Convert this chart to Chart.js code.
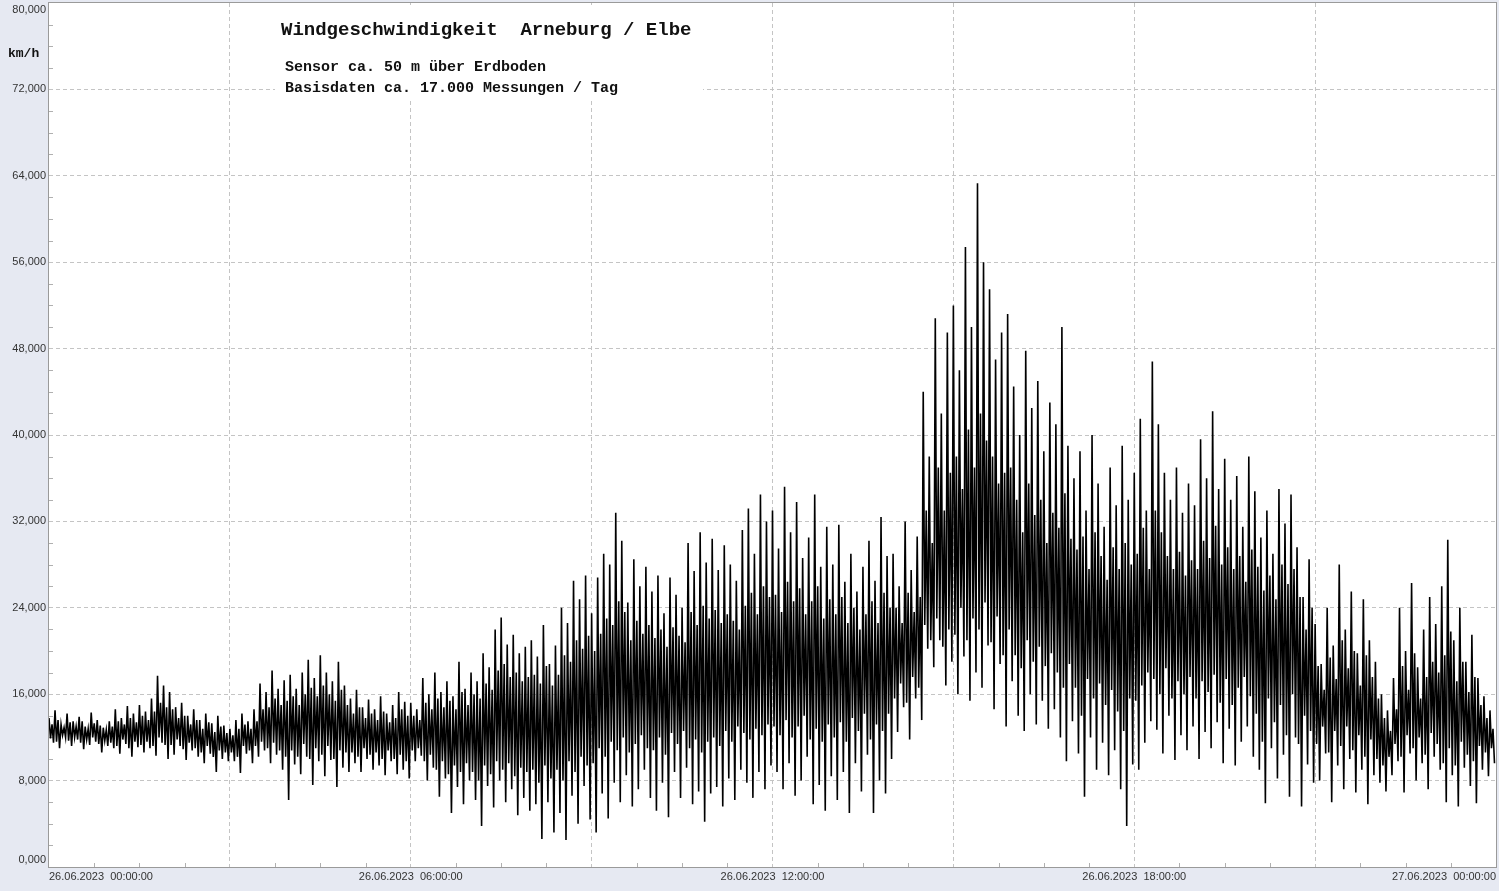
<!DOCTYPE html>
<html>
<head>
<meta charset="utf-8">
<script src="https://cdn.jsdelivr.net/npm/chart.js@4/dist/chart.umd.min.js"></script>
<style>
  html, body { margin: 0; padding: 0; background: #e6e9f2; }
  #wrap { width: 1499px; height: 891px; position: relative; }
</style>
</head>
<body>
<div id="wrap"><canvas id="chart" width="1499" height="891"></canvas></div>
<script>
// Windgeschwindigkeit in km/h, every 0.1 h:
// hi/lo = outer swings (spikes), cu/cl = edges of the dense black band
const hi = [
  13.8,14.5,13.2,14.2,13.5,13.9,13.0,14.3,13.6,12.9,
  13.5,14.6,13.8,14.9,14.2,15.0,14.4,15.6,17.7,16.8,
  16.2,14.8,15.2,14.0,14.6,13.6,14.2,13.3,14.0,13.1,
  12.8,13.6,14.2,13.5,14.6,17.0,16.2,18.2,16.5,17.3,
  17.8,16.5,18.0,19.2,17.5,19.6,18.0,17.2,19.0,16.8,
  15.6,16.4,14.8,15.5,14.6,15.8,14.2,15.0,16.2,15.3,
  15.2,14.6,17.5,16.0,18.0,16.2,17.2,15.8,19.0,16.5,
  18.0,17.2,19.8,18.5,22.0,23.1,20.6,21.5,19.8,20.4,
  21.0,19.5,22.4,18.8,20.5,24.0,22.6,26.5,24.8,27.0,
  23.5,26.8,29.0,28.0,32.8,30.2,24.5,28.5,26.0,27.8,
  25.5,27.0,23.5,26.8,25.2,24.0,30.0,27.4,31.0,28.2,
  30.4,27.5,29.8,28.0,26.5,31.2,33.2,29.0,34.5,32.0,
  33.0,29.5,35.2,31.0,33.8,28.6,30.5,34.5,27.8,31.5,
  28.0,31.7,26.4,29.0,25.5,27.8,30.2,26.5,32.4,28.8,
  29.0,26.0,32.0,27.5,30.6,44.0,38.0,50.8,42.0,49.5,
  52.0,46.0,57.4,50.0,63.3,56.0,53.5,47.0,49.5,51.2,
  44.5,40.0,47.8,42.5,45.0,38.5,43.0,41.0,50.0,39.0,
  36.0,38.5,33.0,40.0,35.5,31.5,37.0,33.5,39.0,34.0,
  36.5,41.5,33.0,46.8,41.0,36.5,34.0,37.0,32.8,35.5,
  33.5,39.6,36.0,42.2,35.0,37.8,34.0,36.2,31.5,38.0,
  34.8,30.5,33.0,29.0,35.0,31.8,34.5,29.6,25.0,28.5,
  22.5,18.8,24.0,20.5,28.0,22.0,25.5,19.8,24.8,21.0,
  19.0,16.0,14.5,17.5,24.0,20.0,26.3,18.5,22.0,25.0,
  22.5,26.0,30.3,21.0,24.0,19.0,21.5,17.5,15.8,14.5
];
const cl = [
  11.9,11.6,12.2,11.7,12.0,11.5,11.8,12.0,11.4,11.7,
  11.5,11.2,11.8,11.0,11.6,11.3,11.6,11.2,12.0,11.3,
  11.3,11.8,10.9,11.5,11.0,10.6,11.2,10.2,10.8,10.6,
  10.6,10.2,11.2,10.8,11.2,11.6,11.0,11.5,10.8,10.2,
  10.8,10.2,11.4,10.0,11.0,10.4,11.2,10.0,10.8,10.6,
  10.6,10.2,11.0,10.4,10.6,10.0,10.8,10.0,10.4,9.8,
  10.8,11.0,9.8,10.4,9.0,9.8,8.6,9.4,8.8,9.6,
  8.8,8.0,9.4,8.6,9.8,9.0,9.6,8.4,9.2,8.8,
  9.0,7.8,9.4,8.2,9.0,8.0,9.8,8.8,10.2,9.4,
  9.6,11.0,10.2,11.6,10.8,12.0,10.6,11.4,12.2,11.0,
  10.8,12.0,10.4,12.4,11.4,12.6,11.0,11.8,10.6,11.6,
  12.0,11.2,12.6,11.6,13.0,12.4,11.8,12.8,12.2,13.2,
  13.0,12.2,13.6,12.0,13.0,14.0,11.8,12.8,11.6,13.2,
  12.0,13.4,11.6,13.8,12.6,14.2,11.8,13.2,12.6,14.2,
  15.6,17.0,15.2,17.6,16.6,22.4,21.0,23.0,20.4,22.0,
  21.5,24.0,21.0,23.0,22.0,24.5,20.8,23.2,19.6,22.0,
  19.6,18.4,21.0,19.0,20.4,18.6,19.8,18.0,16.6,18.8,
  16.6,14.0,17.4,15.6,17.0,15.0,16.4,14.4,12.6,15.6,
  15.4,16.8,18.0,17.4,16.0,18.4,15.6,17.2,16.0,17.6,
  15.6,17.2,16.2,17.8,15.2,17.4,15.0,16.6,17.6,15.8,
  14.2,11.6,15.6,13.4,15.0,12.2,16.0,11.4,14.0,12.6,
  11.4,13.0,10.6,12.6,11.2,13.0,10.8,12.2,10.2,11.8,
  10.0,9.4,10.2,11.4,10.2,12.2,11.0,12.0,10.4,12.4,
  11.4,9.6,11.0,9.4,11.6,10.4,9.8,11.2,10.6,11.0
];
const cu = [
  13.2,13.6,12.9,13.4,13.0,13.5,12.8,13.3,13.1,12.7,
  13.0,13.5,13.2,13.8,13.4,14.0,13.6,14.4,15.2,14.8,
  14.6,13.8,14.0,13.2,13.6,12.8,13.4,12.5,13.0,12.4,
  12.2,12.8,13.2,12.8,13.5,14.6,14.8,15.6,15.0,15.4,
  15.8,15.0,16.0,16.6,15.8,16.8,16.0,15.4,16.4,15.0,
  14.2,14.8,13.8,14.2,13.6,14.4,13.4,13.8,14.6,14.0,
  14.0,13.6,15.2,14.6,15.6,14.8,15.4,14.6,16.2,15.0,
  16.0,15.6,17.0,16.4,18.2,18.8,17.6,18.0,17.2,17.6,
  17.8,17.0,18.6,16.8,17.8,19.6,19.0,21.0,20.2,21.4,
  20.0,21.6,23.0,22.4,24.6,23.6,21.0,22.8,21.6,22.4,
  21.2,22.0,20.4,22.2,21.4,20.8,23.6,22.4,24.2,23.0,
  23.8,22.6,23.4,22.8,22.0,24.2,25.4,23.4,26.0,25.0,
  25.2,23.6,26.4,24.6,25.8,23.4,24.6,26.0,23.0,24.8,
  23.4,25.0,22.6,24.0,22.0,23.4,24.6,22.6,25.4,24.0,
  24.0,22.6,25.4,23.6,25.0,33.0,30.0,37.0,33.0,36.5,
  38.0,35.0,40.5,37.0,42.0,39.5,38.0,35.5,36.5,37.0,
  34.0,31.0,35.5,32.6,34.0,30.0,32.8,31.4,34.6,30.4,
  29.4,30.6,27.6,31.0,28.8,26.6,29.6,27.6,30.0,28.0,
  29.0,31.4,27.6,33.0,31.0,28.8,27.6,29.2,27.0,28.4,
  27.6,30.2,28.6,31.6,28.0,29.6,27.6,28.8,26.4,29.4,
  27.8,25.6,27.0,24.8,28.0,26.2,27.6,25.0,22.0,24.0,
  18.6,16.4,19.4,17.4,21.0,18.4,20.0,16.8,19.6,17.6,
  15.6,13.8,12.6,14.6,18.6,16.4,19.8,15.6,17.6,19.0,
  18.0,19.6,21.8,17.2,19.0,16.2,17.6,15.0,13.8,12.8
];
const lo = [
  11.5,11.0,12.0,11.2,11.8,10.9,11.3,11.6,10.6,11.2,
  11.0,10.5,11.4,10.2,11.1,10.6,11.0,10.3,11.5,10.0,
  10.4,11.2,9.9,10.8,10.2,9.6,10.5,8.8,10.0,9.8,
  9.8,8.7,10.5,9.6,10.2,10.8,9.6,10.4,9.0,6.2,
  9.5,8.6,10.2,7.6,9.8,8.4,9.9,7.4,9.2,8.8,
  9.6,8.8,10.0,9.0,9.4,8.5,9.8,8.6,9.0,8.2,
  9.8,10.3,8.0,9.2,6.5,8.2,5.0,7.4,5.8,8.0,
  6.2,3.8,7.5,5.5,8.0,6.0,7.2,4.8,6.4,5.2,
  5.8,2.6,6.0,3.2,5.0,2.5,6.6,4.0,7.5,4.4,
  3.2,6.8,4.5,7.8,6.0,8.5,5.6,7.2,9.0,6.4,
  5.2,7.8,4.6,8.8,6.4,9.2,5.8,7.0,4.2,6.8,
  7.4,5.6,8.2,6.2,9.0,7.8,6.4,8.8,7.2,9.4,
  8.8,7.2,9.6,6.6,8.0,10.2,5.8,7.6,5.2,8.4,
  6.2,8.8,5.0,9.6,7.0,10.4,5.0,8.0,6.8,10.0,
  12.5,14.8,11.8,15.6,13.6,20.2,18.5,21.0,16.8,19.0,
  16.0,19.5,15.4,18.0,16.6,20.5,14.6,18.8,13.0,17.2,
  14.0,12.6,16.0,13.2,15.4,12.8,14.6,12.0,9.8,13.5,
  10.5,6.5,12.0,9.0,11.5,8.5,10.8,7.2,3.8,9.5,
  9.0,11.5,13.5,12.7,10.5,14.0,9.9,12.2,10.8,13.0,
  10.0,12.5,11.0,13.4,9.6,12.8,9.4,11.6,13.0,10.2,
  9.0,5.9,11.0,8.2,10.4,6.5,12.0,5.6,9.5,7.8,
  8.0,10.5,6.0,9.4,7.2,10.0,6.9,9.0,5.8,8.5,
  7.8,7.0,8.5,9.8,6.9,10.5,8.0,9.6,7.2,10.2,
  9.0,6.0,8.5,5.6,9.2,7.5,5.9,9.0,8.4,9.6
];
const stepHours = 0.1;
const yTicks = [0, 8, 16, 24, 32, 40, 48, 56, 64, 72, 80];
const xLabels = [
  { h: 0, text: '26.06.2023  00:00:00', align: 'left' },
  { h: 6, text: '26.06.2023  06:00:00', align: 'center' },
  { h: 12, text: '26.06.2023  12:00:00', align: 'center' },
  { h: 18, text: '26.06.2023  18:00:00', align: 'center' },
  { h: 24, text: '27.06.2023  00:00:00', align: 'right' }
];
const title = 'Windgeschwindigkeit  Arneburg / Elbe';
const subLines = ['Sensor ca. 50 m über Erdboden', 'Basisdaten ca. 17.000 Messungen / Tag'];
const unit = 'km/h';

// four readings per step: spike top, band bottom, band top, spike bottom
const points = [];
hi.forEach((v, i) => {
  const t = i * stepHours;
  points.push({ x: t, y: v });
  points.push({ x: t + stepHours * 0.25, y: cl[i] });
  points.push({ x: t + stepHours * 0.5, y: cu[i] });
  points.push({ x: t + stepHours * 0.75, y: lo[i] });
});

function fmt(v) {
  return v.toFixed(3).replace('.', ',');
}

const decor = {
  id: 'decor',
  beforeDraw(chart) {
    const { ctx, chartArea: a } = chart;
    ctx.save();
    ctx.fillStyle = '#e6e9f2';
    ctx.fillRect(0, 0, chart.width, chart.height);
    ctx.fillStyle = '#ffffff';
    ctx.fillRect(a.left, a.top, a.right - a.left, a.bottom - a.top);
    ctx.restore();
  },
  beforeDatasetsDraw(chart) {
    const { ctx, chartArea: a, scales } = chart;
    ctx.save();
    // white box behind the title
    ctx.fillStyle = '#ffffff';
    ctx.fillRect(275, a.top + 2, 428, 96);
    // minor ticks inside the plot
    ctx.strokeStyle = '#b0b0b0';
    ctx.lineWidth = 1;
    ctx.beginPath();
    for (let v = 2; v < 80; v += 2) {
      if (v % 8 === 0) continue;
      const y = Math.round(scales.y.getPixelForValue(v)) + 0.5;
      ctx.moveTo(a.left, y);
      ctx.lineTo(a.left + 4, y);
    }
    for (let h = 0.75; h < 24; h += 0.75) {
      if (Math.abs(h / 3 - Math.round(h / 3)) < 1e-6) continue;
      const x = Math.round(scales.x.getPixelForValue(h)) + 0.5;
      ctx.moveTo(x, a.bottom);
      ctx.lineTo(x, a.bottom - 4);
    }
    ctx.stroke();
    ctx.restore();
  },
  afterDraw(chart) {
    const { ctx, chartArea: a, scales } = chart;
    ctx.save();
    ctx.strokeStyle = '#9a9a9a';
    ctx.lineWidth = 1;
    ctx.strokeRect(a.left - 0.5, a.top - 0.5, a.right - a.left + 1, a.bottom - a.top + 1);

    ctx.fillStyle = '#333333';
    ctx.font = '11px "Liberation Sans", Arial, sans-serif';
    ctx.textAlign = 'right';
    ctx.textBaseline = 'middle';
    yTicks.forEach(v => {
      let y = scales.y.getPixelForValue(v);
      y = Math.min(Math.max(y, a.top + 7), a.bottom - 7);
      ctx.fillText(fmt(v), a.left - 3, y);
    });
    xLabels.forEach(l => {
      const x = scales.x.getPixelForValue(l.h);
      ctx.textAlign = l.align;
      ctx.fillText(l.text, x, a.bottom + 10);
    });

    ctx.fillStyle = '#111111';
    ctx.textAlign = 'left';
    ctx.textBaseline = 'alphabetic';
    ctx.font = 'bold 13px "Liberation Mono", "Courier New", monospace';
    ctx.fillText(unit, 8, 57);
    ctx.font = 'bold 19px "Liberation Mono", "Courier New", monospace';
    ctx.fillText(title, 281, 35);
    ctx.font = 'bold 15px "Liberation Mono", "Courier New", monospace';
    ctx.fillText(subLines[0], 285, 71);
    ctx.fillText(subLines[1], 285, 92);
    ctx.restore();
  }
};

new Chart(document.getElementById('chart'), {
  type: 'line',
  data: {
    datasets: [{
      data: points,
      borderColor: '#000000',
      borderWidth: 1.6,
      pointRadius: 0,
      tension: 0,
      fill: false
    }]
  },
  options: {
    responsive: false,
    animation: false,
    layout: { padding: { top: 3, right: 3, left: 0, bottom: 0 } },
    plugins: { legend: { display: false }, tooltip: { enabled: false } },
    scales: {
      x: {
        type: 'linear',
        min: 0,
        max: 24,
        ticks: { display: false, stepSize: 3 },
        grid: {
          color: c => (c.tick && (c.tick.value === 0 || c.tick.value === 24)) ? 'rgba(0,0,0,0)' : '#c4c4c4',
          tickLength: 0
        },
        border: { display: false, dash: [4, 3] },
        afterFit: s => { s.height = 24; }
      },
      y: {
        min: 0,
        max: 80,
        ticks: { display: false, stepSize: 8 },
        grid: {
          color: c => (c.tick && (c.tick.value === 0 || c.tick.value === 80)) ? 'rgba(0,0,0,0)' : '#c4c4c4',
          tickLength: 0
        },
        border: { display: false, dash: [4, 3] },
        afterFit: s => { s.width = 49; }
      }
    }
  },
  plugins: [decor]
});
</script>
</body>
</html>
